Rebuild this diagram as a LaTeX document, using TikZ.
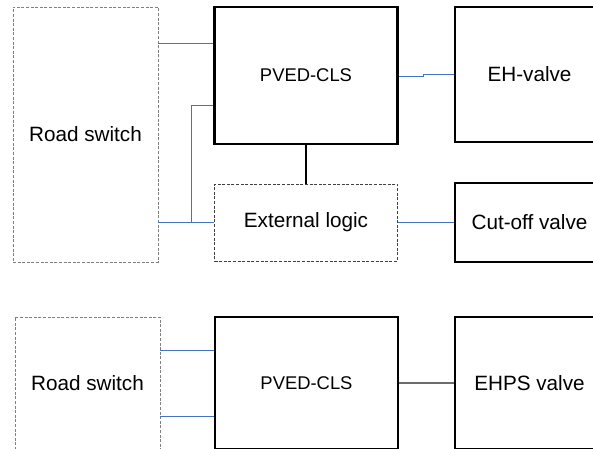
\documentclass[tikz,border=0pt]{standalone}
\usepackage{fontspec}
\setmainfont{Liberation Sans}
\definecolor{linkblue}{HTML}{4472C4}
\definecolor{dashgray}{HTML}{7F7F7F}
\definecolor{dashdark}{HTML}{404040}
\definecolor{linkgray}{HTML}{6B6B6B}
\tikzset{
  solidbox/.style={draw=black, line width=2.6pt, inner sep=0pt, align=center, font=\fontsize{20.7}{24}\selectfont},
  pvedbox/.style={solidbox, font=\fontsize{18.4}{22}\selectfont},
  dashbox/.style={draw=dashgray, line width=0.9pt, dash pattern=on 3pt off 1.6pt, inner sep=0pt, align=center, font=\fontsize{20.7}{24}\selectfont},
  dashdarkbox/.style={dashbox, draw=dashdark},
  bluelink/.style={draw=linkblue, line width=1pt},
  blacklink/.style={draw=black, line width=1.3pt},
  graylink/.style={draw=linkgray, line width=1.3pt}
}
\begin{document}
\begin{tikzpicture}[x=1pt,y=-1pt]
\useasboundingbox (0,0) rectangle (593,448);
\clip (0,0) rectangle (593,448);
\fill[white] (0,0) rectangle (593,448);
% top diagram
\node[dashbox, minimum width=145pt, minimum height=255pt] (rs1) at (85.5,134.5) {Road switch};
\node[pvedbox, minimum width=183pt, minimum height=137pt] (pv1) at (306,75.5) {PVED-CLS};
\node[solidbox, minimum width=149pt, minimum height=135pt] (eh) at (529.5,74.5) {EH-valve};
\node[dashdarkbox, minimum width=183pt, minimum height=77pt] (el) at (306,222.5) {External logic};
\node[solidbox, minimum width=149pt, minimum height=79pt] (co) at (529.5,222.5) {Cut-off valve};
\coordinate (ya) at (0,43);
\coordinate (yb) at (0,105);
\coordinate (yc) at (0,76.5);
\coordinate (yd) at (0,74.5);
\coordinate (jn) at (191,222.5);
\coordinate (jog) at (423,76.5);
\draw[bluelink] (rs1.east |- ya) -- (pv1.west |- ya);
\draw[bluelink] (pv1.west |- yb) -| (jn);
\draw[bluelink] (rs1.east |- el.west) -- (el.west);
\draw[bluelink] (pv1.east |- yc) -- (jog) |- (eh.west |- yd);
\draw[bluelink] (el.east) -- (co.west);
\draw[blacklink] (pv1.south) -- (el.north);
% bottom diagram
\node[dashbox, minimum width=145pt, minimum height=132pt] (rs2) at (87.5,383) {Road switch};
\node[pvedbox, minimum width=183pt, minimum height=132pt] (pv2) at (306.5,383) {PVED-CLS};
\node[solidbox, minimum width=149pt, minimum height=132pt] (ehps) at (529.5,383) {EHPS valve};
\coordinate (ye) at (0,350);
\coordinate (yf) at (0,416);
\draw[bluelink] (rs2.east |- ye) -- (pv2.west |- ye);
\draw[bluelink] (rs2.east |- yf) -- (pv2.west |- yf);
\draw[graylink] (pv2.east) -- (ehps.west);
\end{tikzpicture}
\end{document}
